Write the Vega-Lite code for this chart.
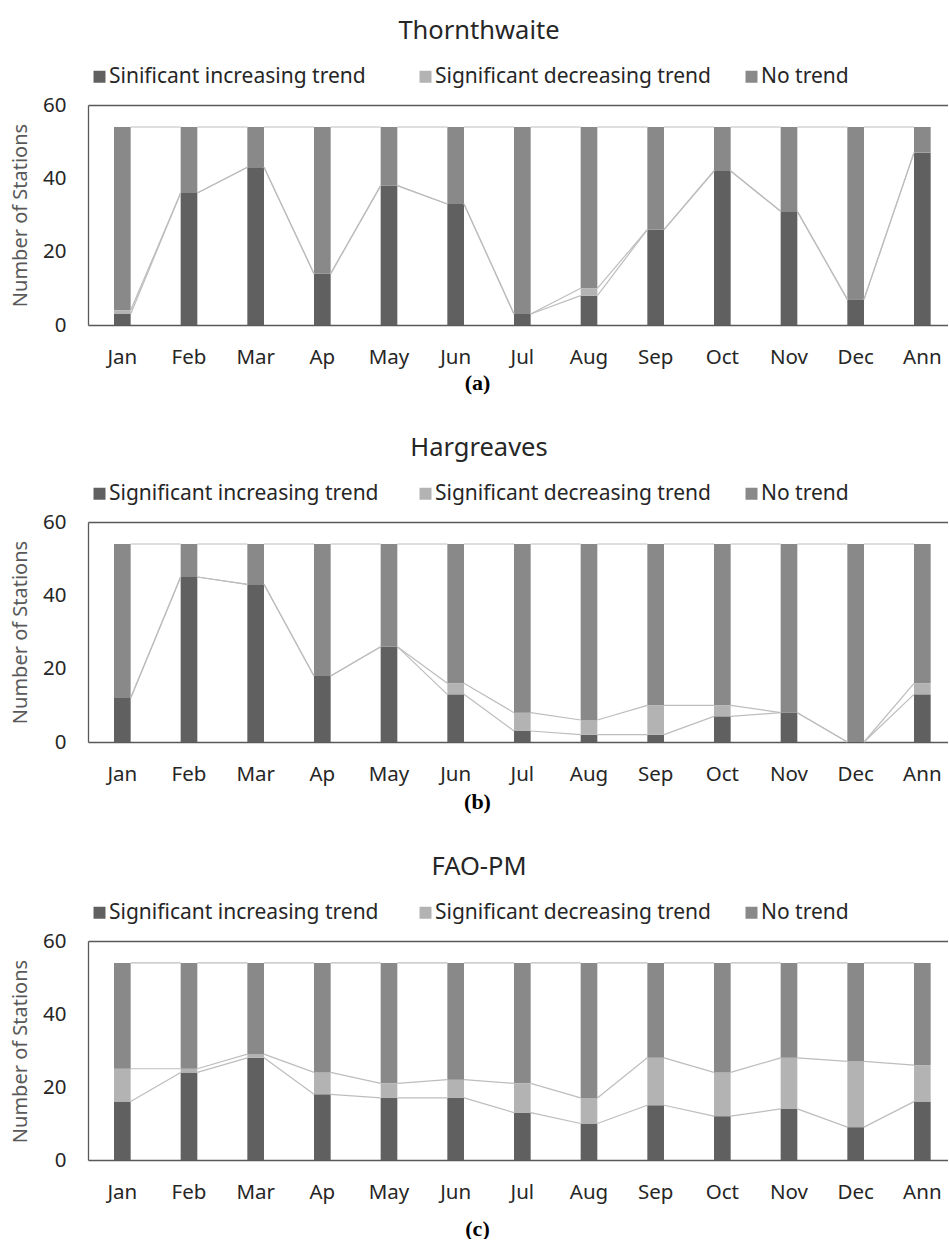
{
  "$schema": "https://vega.github.io/schema/vega-lite/v6.json",
  "padding": {"left": 9, "top": 18, "right": 0, "bottom": 0},
  "background": "white",
  "spacing": 42,
  "resolve": {"scale": {"color": "independent", "x": "independent", "y": "independent"}, "legend": {"color": "independent"}},
  "config": {
    "font": "Noto Sans",
    "view": {"stroke": null},
    "title": {"fontSize": 25.5, "fontWeight": "normal", "color": "#262626", "frame": "bounds", "anchor": "middle", "offset": 22}
  },
  "vconcat": [
    {
      "title": "Thornthwaite",
      "width": 860, "height": 220,
      "data": {"values": [
        {"m": "Jan", "o": 1, "Sinificant increasing trend": 3, "Significant decreasing trend": 1, "No trend": 50},
        {"m": "Feb", "o": 2, "Sinificant increasing trend": 36, "Significant decreasing trend": 0, "No trend": 18},
        {"m": "Mar", "o": 3, "Sinificant increasing trend": 43, "Significant decreasing trend": 0, "No trend": 11},
        {"m": "Ap", "o": 4, "Sinificant increasing trend": 14, "Significant decreasing trend": 0, "No trend": 40},
        {"m": "May", "o": 5, "Sinificant increasing trend": 38, "Significant decreasing trend": 0, "No trend": 16},
        {"m": "Jun", "o": 6, "Sinificant increasing trend": 33, "Significant decreasing trend": 0, "No trend": 21},
        {"m": "Jul", "o": 7, "Sinificant increasing trend": 3, "Significant decreasing trend": 0, "No trend": 51},
        {"m": "Aug", "o": 8, "Sinificant increasing trend": 8, "Significant decreasing trend": 2, "No trend": 44},
        {"m": "Sep", "o": 9, "Sinificant increasing trend": 26, "Significant decreasing trend": 0, "No trend": 28},
        {"m": "Oct", "o": 10, "Sinificant increasing trend": 42, "Significant decreasing trend": 0, "No trend": 12},
        {"m": "Nov", "o": 11, "Sinificant increasing trend": 31, "Significant decreasing trend": 0, "No trend": 23},
        {"m": "Dec", "o": 12, "Sinificant increasing trend": 7, "Significant decreasing trend": 0, "No trend": 47},
        {"m": "Ann", "o": 13, "Sinificant increasing trend": 47, "Significant decreasing trend": 0, "No trend": 7}
      ]},
      "transform": [
        {"fold": ["Sinificant increasing trend", "Significant decreasing trend", "No trend"], "as": ["k", "v"]},
        {"stack": "v", "groupby": ["m"], "sort": [{"field": "k", "order": "descending"}], "as": ["y0", "y1"]}
      ],
      "layer": [
        {
          "mark": {"type": "bar"},
          "encoding": {
            "x": {"field": "m", "type": "nominal", "title": "(a)", "sort": ["Jan","Feb","Mar","Ap","May","Jun","Jul","Aug","Sep","Oct","Nov","Dec","Ann"],
              "scale": {"paddingInner": 0.75, "paddingOuter": 0.325, "align": 0.6},
              "axis": {"labelAngle": 0, "domain": true, "domainColor": "#595959", "domainWidth": 1.3, "ticks": false, "tickSize": 0, "grid": false, "labelPadding": 22, "labelFontSize": 20.5, "labelColor": "#262626", "titleFont": "Liberation Serif", "titleFontWeight": "bold", "titleFontSize": 22, "titleColor": "#000000", "titleX": 389, "titleY": 57, "titleBaseline": "middle"}},
            "y": {"field": "y0", "type": "quantitative", "title": "Number of Stations", "scale": {"domain": [0, 60], "nice": false},
              "axis": {"values": [0, 20, 40, 60], "grid": true, "gridColor": "#595959", "gridWidth": 1.3, "gridOpacity": {"condition": {"test": "datum.value === 60", "value": 1}, "value": 0}, "domain": true, "domainColor": "#595959", "domainWidth": 1.3, "ticks": false, "tickSize": 0, "labelPadding": 22, "labelFontSize": 20.5, "labelColor": "#262626", "titleFontSize": 20, "titleFontWeight": "normal", "titleColor": "#595959", "titleX": -68, "titleY": 110, "titleAngle": -90, "titleAlign": "center", "titleBaseline": "middle"}},
            "y2": {"field": "y1"},
            "color": {"field": "k", "type": "nominal", "scale": {"domain": ["Sinificant increasing trend", "Significant decreasing trend", "No trend"], "range": ["#606060", "#b3b3b3", "#898989"]},
              "legend": {"title": null, "orient": "none", "legendX": 1, "legendY": -39, "direction": "horizontal", "columns": 3, "gridAlign": "all", "columnPadding": 30, "symbolType": "square", "symbolSize": 144, "symbolStrokeWidth": 0, "labelFontSize": 21, "labelColor": "#262626", "labelOffset": -1, "labelLimit": 400}}
          }
        },
        {
          "transform": [
            {"window": [{"op": "lead", "field": "y1", "as": "ny"}, {"op": "lead", "field": "m", "as": "nm"}], "groupby": ["k"], "sort": [{"field": "o", "order": "ascending"}]},
            {"filter": "datum.nm != null"}
          ],
          "mark": {"type": "rule", "color": "#bdbdbd", "strokeWidth": 1.2},
          "encoding": {
            "x": {"field": "m", "type": "nominal", "title": "(a)", "sort": ["Jan","Feb","Mar","Ap","May","Jun","Jul","Aug","Sep","Oct","Nov","Dec","Ann"], "bandPosition": 1},
            "x2": {"field": "nm", "bandPosition": 0},
            "y": {"field": "y1", "type": "quantitative", "title": "Number of Stations"},
            "y2": {"field": "ny"}
          }
        }
      ]
    },
    {
      "title": "Hargreaves",
      "width": 860, "height": 220,
      "data": {"values": [
        {"m": "Jan", "o": 1, "Significant increasing trend": 12, "Significant decreasing trend": 0, "No trend": 42},
        {"m": "Feb", "o": 2, "Significant increasing trend": 45, "Significant decreasing trend": 0, "No trend": 9},
        {"m": "Mar", "o": 3, "Significant increasing trend": 43, "Significant decreasing trend": 0, "No trend": 11},
        {"m": "Ap", "o": 4, "Significant increasing trend": 18, "Significant decreasing trend": 0, "No trend": 36},
        {"m": "May", "o": 5, "Significant increasing trend": 26, "Significant decreasing trend": 0, "No trend": 28},
        {"m": "Jun", "o": 6, "Significant increasing trend": 13, "Significant decreasing trend": 3, "No trend": 38},
        {"m": "Jul", "o": 7, "Significant increasing trend": 3, "Significant decreasing trend": 5, "No trend": 46},
        {"m": "Aug", "o": 8, "Significant increasing trend": 2, "Significant decreasing trend": 4, "No trend": 48},
        {"m": "Sep", "o": 9, "Significant increasing trend": 2, "Significant decreasing trend": 8, "No trend": 44},
        {"m": "Oct", "o": 10, "Significant increasing trend": 7, "Significant decreasing trend": 3, "No trend": 44},
        {"m": "Nov", "o": 11, "Significant increasing trend": 8, "Significant decreasing trend": 0, "No trend": 46},
        {"m": "Dec", "o": 12, "Significant increasing trend": 0, "Significant decreasing trend": 0, "No trend": 54},
        {"m": "Ann", "o": 13, "Significant increasing trend": 13, "Significant decreasing trend": 3, "No trend": 38}
      ]},
      "transform": [
        {"fold": ["Significant increasing trend", "Significant decreasing trend", "No trend"], "as": ["k", "v"]},
        {"stack": "v", "groupby": ["m"], "sort": [{"field": "k", "order": "descending"}], "as": ["y0", "y1"]}
      ],
      "layer": [
        {
          "mark": {"type": "bar"},
          "encoding": {
            "x": {"field": "m", "type": "nominal", "title": "(b)", "sort": ["Jan","Feb","Mar","Ap","May","Jun","Jul","Aug","Sep","Oct","Nov","Dec","Ann"],
              "scale": {"paddingInner": 0.75, "paddingOuter": 0.325, "align": 0.6},
              "axis": {"labelAngle": 0, "domain": true, "domainColor": "#595959", "domainWidth": 1.3, "ticks": false, "tickSize": 0, "grid": false, "labelPadding": 22, "labelFontSize": 20.5, "labelColor": "#262626", "titleFont": "Liberation Serif", "titleFontWeight": "bold", "titleFontSize": 22, "titleColor": "#000000", "titleX": 389, "titleY": 59, "titleBaseline": "middle"}},
            "y": {"field": "y0", "type": "quantitative", "title": "Number of Stations", "scale": {"domain": [0, 60], "nice": false},
              "axis": {"values": [0, 20, 40, 60], "grid": true, "gridColor": "#595959", "gridWidth": 1.3, "gridOpacity": {"condition": {"test": "datum.value === 60", "value": 1}, "value": 0}, "domain": true, "domainColor": "#595959", "domainWidth": 1.3, "ticks": false, "tickSize": 0, "labelPadding": 22, "labelFontSize": 20.5, "labelColor": "#262626", "titleFontSize": 20, "titleFontWeight": "normal", "titleColor": "#595959", "titleX": -68, "titleY": 110, "titleAngle": -90, "titleAlign": "center", "titleBaseline": "middle"}},
            "y2": {"field": "y1"},
            "color": {"field": "k", "type": "nominal", "scale": {"domain": ["Significant increasing trend", "Significant decreasing trend", "No trend"], "range": ["#606060", "#b3b3b3", "#898989"]},
              "legend": {"title": null, "orient": "none", "legendX": 1, "legendY": -39, "direction": "horizontal", "columns": 3, "gridAlign": "all", "columnPadding": 30, "symbolType": "square", "symbolSize": 144, "symbolStrokeWidth": 0, "labelFontSize": 21, "labelColor": "#262626", "labelOffset": -1, "labelLimit": 400}}
          }
        },
        {
          "transform": [
            {"window": [{"op": "lead", "field": "y1", "as": "ny"}, {"op": "lead", "field": "m", "as": "nm"}], "groupby": ["k"], "sort": [{"field": "o", "order": "ascending"}]},
            {"filter": "datum.nm != null"}
          ],
          "mark": {"type": "rule", "color": "#bdbdbd", "strokeWidth": 1.2},
          "encoding": {
            "x": {"field": "m", "type": "nominal", "title": "(b)", "sort": ["Jan","Feb","Mar","Ap","May","Jun","Jul","Aug","Sep","Oct","Nov","Dec","Ann"], "bandPosition": 1},
            "x2": {"field": "nm", "bandPosition": 0},
            "y": {"field": "y1", "type": "quantitative", "title": "Number of Stations"},
            "y2": {"field": "ny"}
          }
        }
      ]
    },
    {
      "title": "FAO-PM",
      "width": 860, "height": 219,
      "data": {"values": [
        {"m": "Jan", "o": 1, "Significant increasing trend": 16, "Significant decreasing trend": 9, "No trend": 29},
        {"m": "Feb", "o": 2, "Significant increasing trend": 24, "Significant decreasing trend": 1, "No trend": 29},
        {"m": "Mar", "o": 3, "Significant increasing trend": 28, "Significant decreasing trend": 1, "No trend": 25},
        {"m": "Ap", "o": 4, "Significant increasing trend": 18, "Significant decreasing trend": 6, "No trend": 30},
        {"m": "May", "o": 5, "Significant increasing trend": 17, "Significant decreasing trend": 4, "No trend": 33},
        {"m": "Jun", "o": 6, "Significant increasing trend": 17, "Significant decreasing trend": 5, "No trend": 32},
        {"m": "Jul", "o": 7, "Significant increasing trend": 13, "Significant decreasing trend": 8, "No trend": 33},
        {"m": "Aug", "o": 8, "Significant increasing trend": 10, "Significant decreasing trend": 7, "No trend": 37},
        {"m": "Sep", "o": 9, "Significant increasing trend": 15, "Significant decreasing trend": 13, "No trend": 26},
        {"m": "Oct", "o": 10, "Significant increasing trend": 12, "Significant decreasing trend": 12, "No trend": 30},
        {"m": "Nov", "o": 11, "Significant increasing trend": 14, "Significant decreasing trend": 14, "No trend": 26},
        {"m": "Dec", "o": 12, "Significant increasing trend": 9, "Significant decreasing trend": 18, "No trend": 27},
        {"m": "Ann", "o": 13, "Significant increasing trend": 16, "Significant decreasing trend": 10, "No trend": 28}
      ]},
      "transform": [
        {"fold": ["Significant increasing trend", "Significant decreasing trend", "No trend"], "as": ["k", "v"]},
        {"stack": "v", "groupby": ["m"], "sort": [{"field": "k", "order": "descending"}], "as": ["y0", "y1"]}
      ],
      "layer": [
        {
          "mark": {"type": "bar"},
          "encoding": {
            "x": {"field": "m", "type": "nominal", "title": "(c)", "sort": ["Jan","Feb","Mar","Ap","May","Jun","Jul","Aug","Sep","Oct","Nov","Dec","Ann"],
              "scale": {"paddingInner": 0.75, "paddingOuter": 0.325, "align": 0.6},
              "axis": {"labelAngle": 0, "domain": true, "domainColor": "#595959", "domainWidth": 1.3, "ticks": false, "tickSize": 0, "grid": false, "labelPadding": 22, "labelFontSize": 20.5, "labelColor": "#262626", "titleFont": "Liberation Serif", "titleFontWeight": "bold", "titleFontSize": 22, "titleColor": "#000000", "titleX": 389, "titleY": 68, "titleBaseline": "middle"}},
            "y": {"field": "y0", "type": "quantitative", "title": "Number of Stations", "scale": {"domain": [0, 60], "nice": false},
              "axis": {"values": [0, 20, 40, 60], "grid": true, "gridColor": "#595959", "gridWidth": 1.3, "gridOpacity": {"condition": {"test": "datum.value === 60", "value": 1}, "value": 0}, "domain": true, "domainColor": "#595959", "domainWidth": 1.3, "ticks": false, "tickSize": 0, "labelPadding": 22, "labelFontSize": 20.5, "labelColor": "#262626", "titleFontSize": 20, "titleFontWeight": "normal", "titleColor": "#595959", "titleX": -68, "titleY": 110, "titleAngle": -90, "titleAlign": "center", "titleBaseline": "middle"}},
            "y2": {"field": "y1"},
            "color": {"field": "k", "type": "nominal", "scale": {"domain": ["Significant increasing trend", "Significant decreasing trend", "No trend"], "range": ["#606060", "#b3b3b3", "#898989"]},
              "legend": {"title": null, "orient": "none", "legendX": 1, "legendY": -39, "direction": "horizontal", "columns": 3, "gridAlign": "all", "columnPadding": 30, "symbolType": "square", "symbolSize": 144, "symbolStrokeWidth": 0, "labelFontSize": 21, "labelColor": "#262626", "labelOffset": -1, "labelLimit": 400}}
          }
        },
        {
          "transform": [
            {"window": [{"op": "lead", "field": "y1", "as": "ny"}, {"op": "lead", "field": "m", "as": "nm"}], "groupby": ["k"], "sort": [{"field": "o", "order": "ascending"}]},
            {"filter": "datum.nm != null"}
          ],
          "mark": {"type": "rule", "color": "#bdbdbd", "strokeWidth": 1.2},
          "encoding": {
            "x": {"field": "m", "type": "nominal", "title": "(c)", "sort": ["Jan","Feb","Mar","Ap","May","Jun","Jul","Aug","Sep","Oct","Nov","Dec","Ann"], "bandPosition": 1},
            "x2": {"field": "nm", "bandPosition": 0},
            "y": {"field": "y1", "type": "quantitative", "title": "Number of Stations"},
            "y2": {"field": "ny"}
          }
        }
      ]
    }
  ]
}
